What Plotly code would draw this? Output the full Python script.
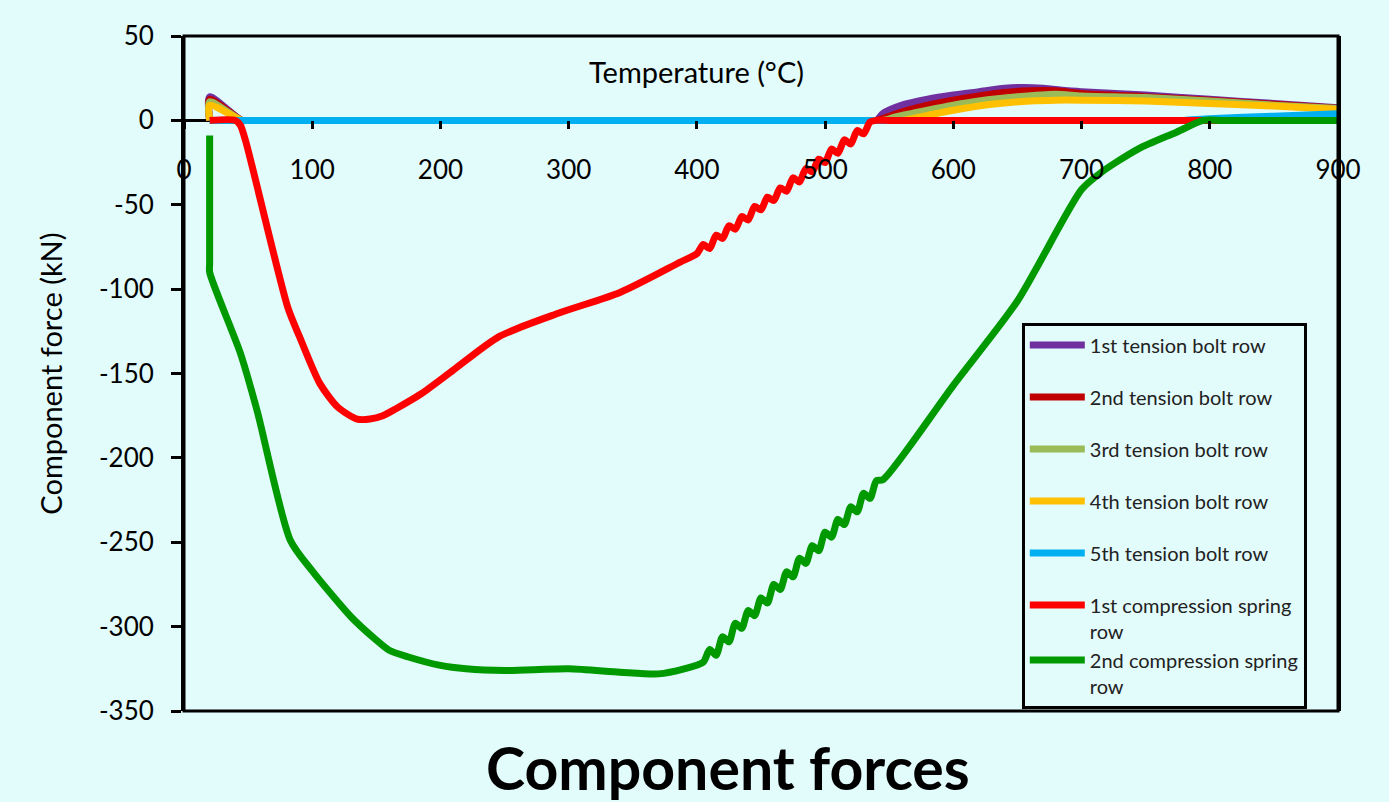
import plotly.graph_objects as go

# ---------------- data ----------------
t_bolt1 = [20, 20, 45, 50, 535, 540, 545, 560, 580, 600, 620, 640, 655, 670, 690, 700, 750, 800, 850, 900]
f_bolt1 = [0, 14, 0, 0, 0, 0, 4, 9, 12.5, 15, 17, 19, 19.5, 19, 17.5, 17, 15, 12.5, 10, 7.5]

t_bolt2 = [20, 20, 45, 50, 535, 540, 545, 560, 580, 600, 620, 640, 660, 680, 700, 750, 800, 850, 900]
f_bolt2 = [0, 12.5, 0, 0, 0, 0, 1, 5, 9, 12, 14.5, 16.5, 17.5, 17.5, 16, 14, 12, 9.5, 7.2]

t_bolt3 = [20, 20, 45, 50, 540, 545, 555, 580, 600, 620, 650, 680, 700, 750, 800, 850, 900]
f_bolt3 = [0, 11, 0, 0, 0, 0, 2, 6, 9, 11.5, 14, 15.5, 14.5, 13.5, 11.5, 9, 7]

t_bolt4 = [20, 20, 45, 50, 555, 560, 580, 600, 630, 660, 680, 700, 750, 800, 850, 900]
f_bolt4 = [0, 9, 0, 0, 0, 0, 3, 6, 9.5, 11.5, 12, 12, 11.5, 10, 8.5, 6.5]

t_bolt5 = [20, 30, 770, 780, 800, 850, 900]
f_bolt5 = [0, 0, 0, 0, 1, 2.5, 4]

t_comp1 = [20, 40, 44, 48, 81, 90, 106, 120, 135, 145, 155, 165, 185, 210, 246, 293, 340, 387,
           400, 405, 410, 415, 420, 425, 430, 435, 440, 445, 450, 455, 460, 465, 470, 475,
           480, 485, 490, 495, 500, 505, 510, 515, 520, 525, 530, 535, 540, 550, 890, 900]
f_comp1 = [0, 0, -3, -12, -111, -128, -156, -170, -177, -177, -175, -171, -162, -148, -128, -114, -102, -84,
           -79, -73.5, -76, -68, -70, -62.5, -64.5, -57, -59, -51, -53, -45.5, -47.5, -40, -42, -34,
           -36.5, -28.5, -30.5, -23, -25, -17, -19.5, -11.5, -14, -6, -8, -1, 0, 0, 0, 0]

t_comp2 = [20, 20, 20, 44, 57, 83, 100, 130, 150, 160, 175, 200, 220, 250, 300, 340, 370, 390,
           405, 410, 415, 420, 425, 430, 435, 440, 445, 450, 455, 460, 465, 470, 475, 480,
           485, 490, 495, 500, 505, 510, 515, 520, 525, 530, 535, 540, 545,
           600, 650, 700, 715, 744, 774, 795, 810, 890, 900]
f_comp2 = [-9, -85, -90, -138, -172, -249, -267, -294, -308, -314, -318, -323, -325, -326, -325, -327, -328, -325,
           -321, -313.5, -317, -306, -309, -298, -301, -290.5, -293.5, -283, -286, -275, -278, -267.5, -270.5, -259.5,
           -262.5, -252, -255, -244, -247, -236.5, -239.5, -229, -232, -221, -224, -213.5, -213,
           -157, -107, -41, -31, -17, -7, 0, 0, 0, 0]

series_names = ["1st tension bolt row", "2nd tension bolt row", "3rd tension bolt row",
                "4th tension bolt row", "5th tension bolt row",
                "1st compression spring<br>row", "2nd compression spring<br>row"]
series_colors = ["#7030A0", "#C00000", "#9BBB59", "#FFC000", "#00B0F0", "#FF0000", "#009900"]
series_x = [t_bolt1, t_bolt2, t_bolt3, t_bolt4, t_bolt5, t_comp1, t_comp2]
series_y = [f_bolt1, f_bolt2, f_bolt3, f_bolt4, f_bolt5, f_comp1, f_comp2]
legend_groups = ["g1", "g2", "g3", "g4", "g5", "g6", "g6"]

x_ticks = list(range(0, 901, 100))
y_ticks = list(range(-350, 51, 50))
y_ticktext = [str(v) for v in y_ticks]

BG = "#E2FBFB"
FONT = "Lato, Carlito, Calibri, 'Open Sans', sans-serif"

fig = go.Figure()
for name, col, xs, ys, grp in zip(series_names, series_colors, series_x, series_y, legend_groups):
    fig.add_trace(go.Scatter(
        x=xs, y=ys, name=name, mode="lines", legendgroup=grp,
        line=dict(color=col, width=7, shape="spline", smoothing=0.7),
    ))

fig.update_layout(
    width=1389, height=802,
    paper_bgcolor=BG, plot_bgcolor=BG,
    margin=dict(l=184, r=51, t=36, b=91),
    font=dict(family=FONT, color="black"),
    showlegend=True,
    legend=dict(
        x=0.726, y=0.5755, xanchor="left", yanchor="top",
        bgcolor="rgba(0,0,0,0)", bordercolor="black", borderwidth=3,
        font=dict(size=20, family=FONT, color="#222222"),
        tracegroupgap=23, itemwidth=55, valign="top",
        traceorder="grouped",
    ),
    xaxis=dict(
        range=[0, 900], tickvals=x_ticks, anchor="free", position=0.875,
        showline=False, showgrid=False, zeroline=False,
        ticks="outside", ticklen=8, tickwidth=3, tickcolor="black",
        tickfont=dict(size=26, family=FONT, color="black"),
        ticklabelstandoff=18,
    ),
    yaxis=dict(
        range=[-350, 50], tickvals=y_ticks, ticktext=y_ticktext,
        showline=True, linecolor="black", linewidth=3, mirror=True,
        showgrid=False, zeroline=True, zerolinecolor="black", zerolinewidth=3,
        ticks="outside", ticklen=10, tickwidth=3, tickcolor="black",
        tickfont=dict(size=26, family=FONT, color="black"),
        ticklabelstandoff=12,
    ),
    shapes=[dict(type="rect", xref="paper", yref="paper", x0=0, x1=1, y0=0, y1=1,
                 line=dict(color="black", width=3), layer="above")],
    annotations=[
        dict(text="Temperature (°C)", xref="paper", yref="paper", x=0.4437, y=0.948,
             xanchor="center", yanchor="middle",
             showarrow=False, font=dict(size=29, family=FONT, color="black")),
        dict(text="Component force (kN)", xref="paper", yref="paper", x=-0.116, y=0.5,
             xanchor="center", yanchor="middle",
             textangle=-90, showarrow=False, font=dict(size=29, family=FONT, color="black")),
        dict(text="<b>Component forces</b>", xref="paper", yref="paper", x=0.4714, y=-0.083,
             xanchor="center", yanchor="middle",
             showarrow=False, font=dict(size=59, family=FONT, color="black")),
    ],
)

fig.write_html(
    "out.html",
    config={"displayModeBar": False},
    post_script="document.body.style.margin='0px';document.body.style.overflow='hidden';"
                "document.body.style.background='" + BG + "';",
)
